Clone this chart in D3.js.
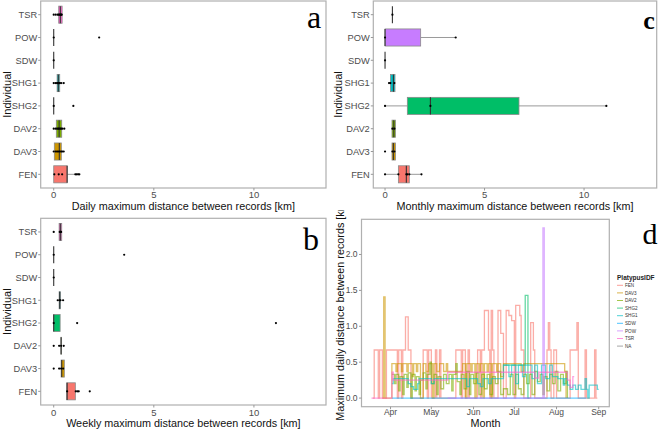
<!DOCTYPE html>
<html><head><meta charset="utf-8">
<script src="https://cdn.jsdelivr.net/npm/d3@7"></script>
<style>
body{margin:0;background:#fff;}
svg{font-family:"Liberation Sans",Arial,sans-serif;}
</style></head>
<body><svg id="c" width="660" height="432"></svg>
<script>
// ---------- DATA ----------
const individuals = ["TSR","POW","SDW","SHG1","SHG2","DAV2","DAV3","FEN"];
const indColors = {FEN:"#F8766D",DAV3:"#CD9600",DAV2:"#7CAE00",SHG2:"#00BE67",SHG1:"#00BFC4",SDW:"#00A9FF",POW:"#C77CFF",TSR:"#FF61CC",NA:"#7F7F7F"};
const xTicks = [0,5,10];

// box stats per individual (same order as individuals): [lower whisker, q1, median, q3, upper whisker]
const dailyStats = [[0.17,0.25,0.33,0.42,0.42],[0,0,0,0,0],[0,0,0,0,0],[0,0.17,0.23,0.30,0.5],[0,0,0,0,0],[0,0.13,0.27,0.40,0.53],[0,0.03,0.28,0.38,0.5],[0,0,0.67,0.67,1.28]];
const dailyPoints = [[0,0.1,0.2,0.25,0.3,0.33,0.37,0.4],[0,2.27],[0],[0,0.1,0.17,0.2,0.23,0.27,0.3,0.37,0.5],[0,0.98],[0,0.1,0.17,0.23,0.27,0.33,0.37,0.43,0.53],[0,0.1,0.17,0.23,0.3,0.37,0.43,0.5],[0.03,0.25,0.42,1.08,1.15,1.22,1.28]];
const weeklyStats = [[0.27,0.27,0.33,0.4,0.4],[0,0,0,0,0],[0,0,0,0,0],[0.2,0.27,0.3,0.33,0.47],[0,0,0,0.32,0.32],[0.36,0.36,0.37,0.38,0.38],[0.37,0.37,0.4,0.53,0.53],[0.65,0.65,0.67,1.08,1.25]];
const weeklyPoints = [[0,0.3,0.33,0.37],[0,3.52],[0],[0.2,0.3,0.33,0.47],[0,1.17,11.1],[0,0.27,0.37,0.5],[0,0.27,0.37,0.47],[0.67,1.1,1.18,1.25,1.8]];
const monthlyStats = [[0.37,0.37,0.37,0.37,0.37],[0,0,0,1.79,3.55],[0,0,0,0,0],[0.2,0.27,0.42,0.5,0.5],[0,1.12,2.28,6.73,11.12],[0.35,0.35,0.44,0.52,0.52],[0.35,0.35,0.42,0.52,0.52],[0,0.67,1.07,1.22,1.83]];
const monthlyPoints = [[0.37],[0,3.55],[0],[0.2,0.27,0.47],[0,2.28,11.12],[0.37,0.47],[0,0.37,0.47],[0,0.67,1.07,1.13,1.22,1.83]];

// panel d: daily maximum distance, step series [date (2018), km]
const stepFEN = [["03-19",0],["03-20",0.67],["03-23",0],["03-24",0.67],["03-26",0],["03-29",0.67],["04-06",0],["04-07",0.67],["04-09",0],["04-10",0.67],["04-12",1.13],["04-14",0.67],["04-16",0],["04-25",0.67],["04-28",0],["04-29",0.67],["05-01",0],["05-04",0.67],["05-05",0],["05-07",0.67],["05-08",0],["05-19",0.67],["05-23",0],["05-24",0.67],["05-26",0],["05-28",0.67],["05-29",0],["06-04",0.67],["06-06",0],["06-07",0.67],["06-09",1.22],["06-12",0.67],["06-13",0],["06-14",1.22],["06-15",0.67],["06-16",0],["06-19",1.22],["06-21",0.9],["06-23",0],["06-25",1.22],["06-27",1.15],["06-29",1.08],["07-01",0],["07-02",1.29],["07-05",1.15],["07-06",0.67],["07-08",0],["07-13",1.05],["07-15",0.67],["07-16",0],["07-25",0.67],["07-26",1.05],["07-27",0.67],["07-28",0],["07-30",0.67],["08-01",0],["08-11",0.67],["08-16",1.05],["08-17",0],["08-22",0.67],["08-23",0],["08-29",0.67],["08-30",0],["08-31",0]];
const stepDAV3 = [["03-26",0],["03-27",1.41],["03-28",0],["04-02",0.48],["04-05",0.37],["04-06",0.48],["04-09",0.37],["04-10",0.48],["04-13",0.37],["04-14",0.48],["04-17",0.3],["04-18",0.48],["04-20",0.37],["04-21",0.48],["04-23",0],["04-25",0.48],["04-27",0.37],["04-29",0.48],["05-02",0],["05-03",0.48],["05-05",0.37],["05-07",0.48],["05-10",0.37],["05-12",0.48],["05-13",0.37],["05-24",0.48],["05-26",0],["05-27",0.48],["05-30",0.37],["05-31",0.48],["06-02",0],["06-03",0.48],["06-05",0.37],["06-06",0.48],["06-08",0],["06-09",0.48],["06-11",0.37],["06-12",0.48],["06-14",0],["06-15",0.48],["06-18",0.37],["06-19",0.48],["06-21",0.3],["06-23",0.48],["07-06",0.37],["07-08",0.48],["08-07",0.37],["08-08",0]];
const stepDAV2 = [["04-02",0.33],["04-04",0.2],["04-05",0.33],["04-07",0.1],["04-08",0.3],["04-10",0.05],["04-11",0.33],["04-13",0.15],["04-14",0.35],["04-16",0],["04-17",0.33],["04-19",0.1],["04-20",0.3],["04-22",0.05],["04-23",0.25],["04-25",0.35],["04-27",0.13],["04-28",0.33],["04-30",0.5],["05-01",0.2],["05-03",0.33],["05-05",0.05],["05-06",0.3],["05-08",0.13],["05-10",0.33],["05-12",0.2],["05-14",0.33],["05-16",0.1],["05-17",0.33],["05-19",0.48],["05-20",0.23],["05-22",0.05],["05-23",0.33],["05-25",0.13],["05-27",0.37],["05-29",0.05],["05-30",0.33],["06-01",0.2],["06-03",0.35],["06-05",0.05],["06-07",0.33],["06-09",0.13],["06-11",0.33],["06-13",0.05],["06-15",0.3],["06-17",0.2],["06-19",0.37],["06-21",0.05],["06-23",0.13],["06-26",0.05],["06-28",0.33],["06-30",0.05],["07-02",0.33],["07-04",0.13],["07-06",0.05],["07-08",0.33],["07-10",0.2],["07-12",0.33],["07-14",0.05],["07-16",0.37],["07-18",0.23],["07-20",0.33],["07-22",0.05],["07-23",0.3],["07-25",0.1],["07-27",0.33],["07-29",0.2],["07-31",0.37],["08-02",0.1],["08-04",0.33],["08-06",0.2],["08-08",0.37],["08-09",0]];
const stepSHG2 = [["06-23",0.46],["07-09",1.43],["07-11",0],["07-12",0]];
const stepSHG1 = [["04-02",0.2],["04-03",0.27],["04-14",0.2],["04-16",0.16],["04-18",0.12],["04-21",0.2],["04-22",0.27],["05-01",0.2],["05-03",0.27],["05-27",0.16],["05-29",0.27],["06-04",0.2],["06-06",0.16],["06-08",0.27],["06-12",0.2],["06-14",0.27],["06-23",0.46],["06-27",0.3],["06-29",0.46],["07-02",0.2],["07-04",0.46],["07-07",0.3],["07-09",0.46],["07-14",0.27],["07-16",0.46],["07-18",0.2],["07-21",0.46],["07-24",0.27],["07-27",0.46],["07-29",0.3],["08-02",0.27],["08-06",0.18],["08-07",0.27],["08-09",0.18],["08-11",0.12],["08-13",0.18],["08-15",0.12],["08-17",0.18],["08-19",0.12],["08-22",0.27],["08-23",0.12],["08-24",0],["08-25",0.18],["08-31",0.12],["09-01",0.12]];
const stepSDW = [["04-02",0],["08-23",0]];
const stepPOW = [["05-13",0],["07-22",2.37],["07-23",0],["07-24",0]];
const stepTSR = [["03-18",0],["04-02",0.36],["04-03",0.25],["05-13",0.36],["07-16",0.28],["07-19",0.36],["08-09",0.25],["08-11",0.15],["08-13",0.3],["08-14",0.3]];
const stepSeries = [["FEN",stepFEN],["DAV3",stepDAV3],["DAV2",stepDAV2],["SHG2",stepSHG2],["SHG1",stepSHG1],["SDW",stepSDW],["POW",stepPOW],["TSR",stepTSR]];
const legendKeys = ["FEN","DAV3","DAV2","SHG2","SHG1","SDW","POW","TSR","NA"];
const dTicksY = [0,0.5,1,1.5,2];
const dMonths = ["04-01","05-01","06-01","07-01","08-01","09-01"];

// ---------- DRAW ----------
const svg = d3.select("#c");
const grey = "#4d4d4d", border = "#b0b0b0";
const serif = '"Liberation Serif","DejaVu Serif",serif';

function boxPanel(o){
  const g = svg.append("g");
  const x = d3.scaleLinear().domain(o.domain).range([o.left,o.right]);
  const y = d3.scalePoint().domain(individuals).range([o.top,o.bottom]).padding(0.6);
  const bw = y.step()*0.75;
  g.append("rect").attr("x",o.left).attr("y",o.top).attr("width",o.right-o.left).attr("height",o.bottom-o.top)
    .attr("fill","none").attr("stroke",border).attr("stroke-width",1.2);
  individuals.forEach(c=>{
    g.append("line").attr("x1",o.left-2.5).attr("x2",o.left).attr("y1",y(c)).attr("y2",y(c)).attr("stroke","#999");
    g.append("text").attr("x",o.left-3.5).attr("y",y(c)).attr("dy","0.35em").attr("text-anchor","end")
      .attr("font-size",9.3).attr("fill",grey).text(c);
  });
  xTicks.forEach(t=>{
    g.append("line").attr("x1",x(t)).attr("x2",x(t)).attr("y1",o.bottom).attr("y2",o.bottom+2.5).attr("stroke","#999");
    g.append("text").attr("x",x(t)).attr("y",o.tickY).attr("text-anchor","middle").attr("font-size",9.5).attr("fill",grey).text(t);
  });
  g.append("text").attr("x",(o.left+o.right)/2).attr("y",o.titleY).attr("text-anchor","middle").attr("font-size",10.8).attr("fill","#111").text(o.xTitle);
  g.append("text").attr("transform",`translate(${o.yTitleX},${(o.top+o.bottom)/2}) rotate(-90)`).attr("text-anchor","middle")
    .attr("font-size",11).attr("fill","#111").text("Individual");
  individuals.forEach((c,i)=>{
    const s = o.stats[i], cy = y(c);
    g.append("line").attr("x1",x(s[0])).attr("x2",x(s[1])).attr("y1",cy).attr("y2",cy).attr("stroke","#9a9a9a").attr("stroke-width",1);
    g.append("line").attr("x1",x(s[3])).attr("x2",x(s[4])).attr("y1",cy).attr("y2",cy).attr("stroke","#9a9a9a").attr("stroke-width",1);
    g.append("rect").attr("x",x(s[1])).attr("y",cy-bw/2).attr("width",x(s[3])-x(s[1])).attr("height",bw)
      .attr("fill",indColors[c]).attr("stroke","#8a8a8a").attr("stroke-width",0.8);
    g.append("line").attr("x1",x(s[2])).attr("x2",x(s[2])).attr("y1",cy-bw/2).attr("y2",cy+bw/2).attr("stroke","#333").attr("stroke-width",1.1);
    o.points[i].forEach(p=>{
      g.append("circle").attr("cx",x(p)).attr("cy",cy).attr("r",1.1).attr("fill","#000");
    });
  });
  g.append("text").attr("x",o.letter[0]).attr("y",o.letter[1]).attr("text-anchor","middle")
    .style("font-family",serif).attr("font-size",o.letter[2]).attr("font-weight",o.letter[3]).attr("fill","#000").text(o.letter[4]);
}

boxPanel({left:40.7,right:326,top:1,bottom:188,domain:[-0.65,13.6],stats:dailyStats,points:dailyPoints,
  xTitle:"Daily maximum distance between records [km]",tickY:198,titleY:209.5,yTitleX:10.5,letter:[314,28,32,"normal","a"]});
boxPanel({left:40.7,right:326,top:218.3,bottom:405,domain:[-0.65,13.6],stats:weeklyStats,points:weeklyPoints,
  xTitle:"Weekly maximum distance between records [km]",tickY:416,titleY:426.5,yTitleX:10.5,letter:[311,250,32,"normal","b"]});
boxPanel({left:373.3,right:656.7,top:1,bottom:188,domain:[-0.59,13.65],stats:monthlyStats,points:monthlyPoints,
  xTitle:"Monthly maximum distance between records [km]",tickY:198,titleY:209.5,yTitleX:341.5,letter:[649,29,26,"bold","c"]});

// panel d
(function(){
  const L=361.5,R=609.3,T=219.3,B=406.7;
  const parse = s=>new Date(`2018-${s}T00:00:00Z`);
  const x = d3.scaleUtc().domain([new Date(Date.UTC(2018,2,10,16)),new Date(Date.UTC(2018,8,8,19))]).range([L,R]);
  const y = d3.scaleLinear().domain([-0.12,2.49]).range([B,T]);
  const g = svg.append("g");
  g.append("rect").attr("x",L).attr("y",T).attr("width",R-L).attr("height",B-T).attr("fill","none").attr("stroke",border).attr("stroke-width",1.2);
  dTicksY.forEach(t=>{
    g.append("line").attr("x1",L-2.5).attr("x2",L).attr("y1",y(t)).attr("y2",y(t)).attr("stroke","#999");
    g.append("text").attr("x",L-4).attr("y",y(t)).attr("dy","0.35em").attr("text-anchor","end").attr("font-size",8.5).attr("fill",grey).text(d3.format(".1f")(t));
  });
  dMonths.forEach(m=>{
    const d=parse(m);
    g.append("line").attr("x1",x(d)).attr("x2",x(d)).attr("y1",B).attr("y2",B+2.5).attr("stroke","#999");
    g.append("text").attr("x",x(d)).attr("y",415).attr("text-anchor","middle").attr("font-size",8.5).attr("fill",grey).text(d3.utcFormat("%b")(d));
  });
  g.append("text").attr("x",(L+R)/2).attr("y",427).attr("text-anchor","middle").attr("font-size",10.8).attr("fill","#111").text("Month");
  svg.append("clipPath").attr("id","dclip").append("rect").attr("x",330).attr("y",210).attr("width",330).attr("height",222);
  g.append("g").attr("clip-path","url(#dclip)").append("text").attr("transform",`translate(344,310) rotate(-90)`).attr("text-anchor","middle")
    .attr("font-size",10.8).attr("fill","#111").text("Maximum daily distance between records [km]");
  const line = d3.line().x(d=>x(parse(d[0]))).y(d=>y(d[1])).curve(d3.curveStepAfter);
  stepSeries.forEach(([k,data])=>{
    g.append("path").attr("d",line(data)).attr("fill","none").attr("stroke",indColors[k]).attr("stroke-width",1.3).attr("stroke-opacity",0.6);
  });
  const lg = svg.append("g");
  lg.append("text").attr("x",617).attr("y",280).attr("font-size",6.5).attr("font-weight","bold").attr("fill","#222").text("PlatypusIDF");
  legendKeys.forEach((k,i)=>{
    const yy = 285.3+i*7.6;
    lg.append("line").attr("x1",617).attr("x2",623).attr("y1",yy).attr("y2",yy).attr("stroke",indColors[k]).attr("stroke-opacity",0.7).attr("stroke-width",1);
    lg.append("text").attr("x",625).attr("y",yy).attr("dy","0.35em").attr("font-size",4.6).attr("fill","#333").text(k);
  });
  svg.append("text").attr("x",650).attr("y",244).attr("text-anchor","middle").style("font-family",serif).attr("font-size",30).attr("fill","#000").text("d");
})();
</script></body></html>
